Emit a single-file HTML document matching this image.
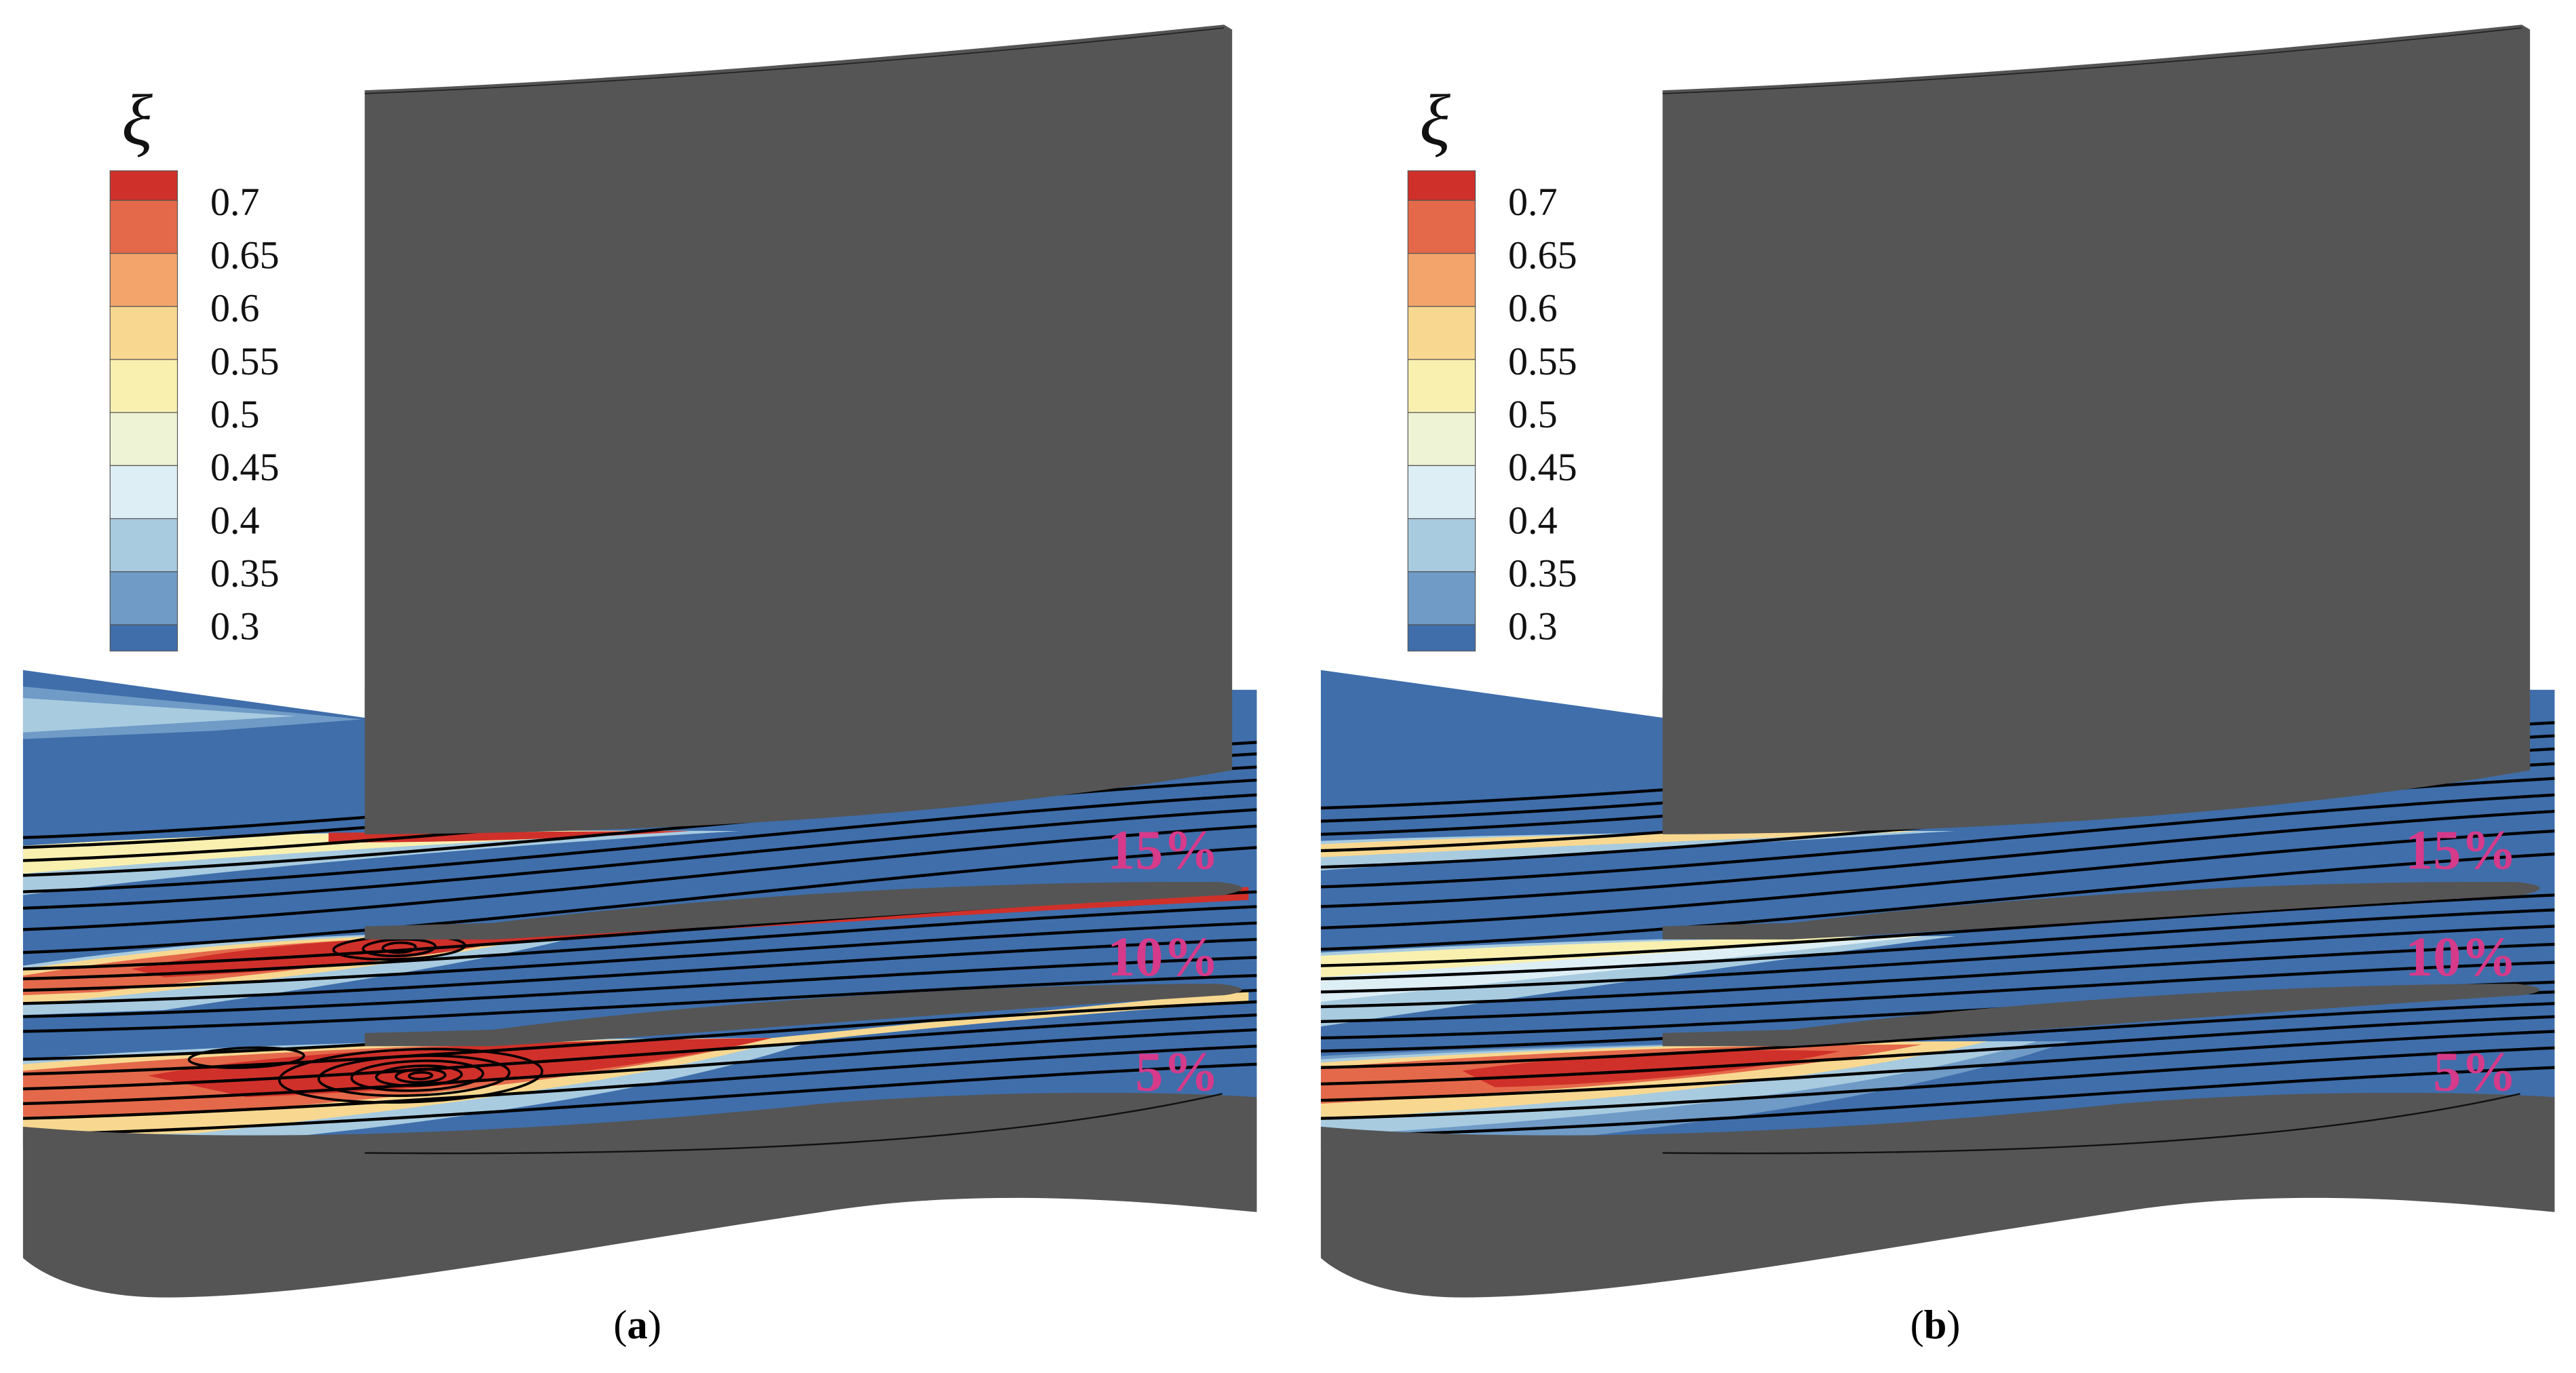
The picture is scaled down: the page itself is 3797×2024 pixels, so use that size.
<!DOCTYPE html>
<html><head><meta charset="utf-8">
<style>
html,body{margin:0;padding:0;background:#fff;}
svg{display:block;}
</style></head>
<body>
<svg id="fig" width="3797" height="2024" viewBox="0 0 1568 836" preserveAspectRatio="none" xmlns="http://www.w3.org/2000/svg">
<defs>
 <clipPath id="flowclip"><path d="M14,408 L222,437 L222,420 L765,420 L765,700 L14,700 Z"/></clipPath>
</defs>
<g id="panelA"></g>
<g id="panelB" transform="translate(790,0)"></g>
<text x="388" y="815" font-family="Liberation Serif, serif" font-size="25" text-anchor="middle">(<tspan font-weight="bold">a</tspan>)</text>
<text x="1178" y="815" font-family="Liberation Serif, serif" font-size="25" text-anchor="middle">(<tspan font-weight="bold">b</tspan>)</text>
</svg>
<script>
const levelLabels=["0.7","0.65","0.6","0.55","0.5","0.45","0.4","0.35","0.3"];
const levelColors=["#d0302a","#e4694a","#f2a46b","#f8d890","#f9f0b0","#eff3d5","#ddeef5","#a8cbe0","#6f9bc6","#3f6eab"];
// streamline end heights (left x=14, right x=765) per panel
const aUpperL=[510,516,524,533,543,553,566,580];
const aUpperR=[452,459,467,475,484,493,503,516];
const aMidL=[590,596,603,611,619,628];
const aMidR=[543,552,562,572,583,594];
const aLowL=[645,654,663,672,681,691];
const aLowR=[603,610,618,627,637,648];
const bUpperL=[492,500,508,518,528,540,552,565,578];
const bUpperR=[440,448,456,465,474,484,494,506,520];
const bMidL=[588,596,604,613,622,632];
const bMidR=[545,554,564,575,586,598];
const bLowL=[640,650,660,670,681,692];
const bLowR=[604,611,619,628,638,650];
const NS="http://www.w3.org/2000/svg";
function mk(parent,tag,attrs){const e=document.createElementNS(NS,tag);for(const k in attrs)e.setAttribute(k,attrs[k]);parent.appendChild(e);return e;}
function streamline(g,yl,yr,name){
  const p=mk(g,"path",{d:`M14,${yl} C260,${yl-(yl-yr)*0.15} 520,${yr+(yl-yr)*0.25} 765,${yr}`,fill:"none",stroke:"#000","stroke-width":"1.8"});
  
  
}
function build(g,isA){
  const field=mk(g,"path",{d:"M14,408 L222,437 L222,420 L765,420 L765,700 L14,700 Z",fill:"#3f6eab"});
  
  
  const w=mk(g,"g",{"clip-path":"url(#flowclip)"});
  
  
  if(isA){
    mk(w,"path",{d:"M14,418 L220,438 L130,445 L14,450 Z",fill:"#6f9bc6"});
    mk(w,"path",{d:"M14,425 L180,436 L14,446 Z",fill:"#a8cbe0"});
    mk(w,"path",{d:"M14,515 C120,508 250,505 450,506 C300,515 150,528 14,545 Z",fill:"#a8cbe0"});
    mk(w,"path",{d:"M14,515 C120,508 250,505 420,506 C300,512 150,520 14,532 Z",fill:"#f9f0b0"});
    mk(w,"path",{d:"M200,507 L420,506 C330,512 250,513 200,513 Z",fill:"#d0302a"});
    mk(w,"path",{d:"M14,588 C100,575 200,566 360,568 C300,585 200,600 100,615 L14,618 Z",fill:"#a8cbe0"});
    mk(w,"path",{d:"M14,590 C100,577 200,568 340,568 C280,582 180,596 14,612 Z",fill:"#f8d890"});
    mk(w,"path",{d:"M14,594 C100,580 200,570 320,569 C260,582 170,592 60,604 L14,606 Z",fill:"#e4694a"});
    mk(w,"path",{d:"M80,590 C140,578 200,570 330,569 C270,582 200,590 100,595 Z",fill:"#d0302a"});
    mk(w,"path",{d:"M280,569 L760,540 L760,548 C600,556 450,565 280,575 Z",fill:"#d0302a"});
    mk(w,"path",{d:"M14,645 C150,635 300,632 500,632 C420,660 300,680 150,695 L14,695 Z",fill:"#a8cbe0"});
    mk(w,"path",{d:"M14,648 C150,637 300,633 480,632 C400,656 280,672 120,690 L14,692 Z",fill:"#f8d890"});
    mk(w,"path",{d:"M14,652 C150,640 300,634 470,632 C390,652 280,666 120,678 L14,680 Z",fill:"#e4694a"});
    mk(w,"path",{d:"M90,655 C170,640 300,634 470,632 C390,650 300,662 150,668 Z",fill:"#d0302a"});
    mk(w,"path",{d:"M470,632 L760,603 L760,610 C620,620 520,630 440,640 Z",fill:"#f8d890"});
  } else {
    mk(w,"path",{d:"M14,512 C120,508 250,506 400,506 C300,512 150,520 14,530 Z",fill:"#a8cbe0"});
    mk(w,"path",{d:"M14,514 C120,509 250,506 380,506 C300,510 150,515 14,522 Z",fill:"#f8d890"});
    mk(w,"path",{d:"M14,580 C150,573 250,570 400,570 C250,590 150,605 14,625 Z",fill:"#a8cbe0"});
    mk(w,"path",{d:"M14,582 C150,575 250,571 380,570 C250,585 150,595 14,610 Z",fill:"#ddeef5"});
    mk(w,"path",{d:"M14,582 C150,575 250,571 380,570 C250,578 150,585 14,595 Z",fill:"#f9f0b0"});
    mk(w,"path",{d:"M14,643 C150,636 300,634 470,634 C380,665 250,685 100,700 L14,700 Z",fill:"#6f9bc6"});
    mk(w,"path",{d:"M14,645 C150,637 300,634 450,634 C360,660 250,676 14,692 Z",fill:"#a8cbe0"});
    mk(w,"path",{d:"M14,647 C150,638 300,634 420,634 C330,655 220,668 14,682 Z",fill:"#f8d890"});
    mk(w,"path",{d:"M14,650 C150,640 260,636 380,636 C300,652 200,662 14,672 Z",fill:"#e4694a"});
    mk(w,"path",{d:"M100,652 C170,642 250,638 330,640 C280,652 200,660 120,662 Z",fill:"#d0302a"});
  }
  const sl=mk(g,"g",{"clip-path":"url(#flowclip)"});
  
  
  const U=isA?[aUpperL,aUpperR]:[bUpperL,bUpperR], M=isA?[aMidL,aMidR]:[bMidL,bMidR], L=isA?[aLowL,aLowR]:[bLowL,bLowR];
  U[0].forEach((v,i)=>streamline(sl,v,U[1][i],'streamline-15'));
  M[0].forEach((v,i)=>streamline(sl,v,M[1][i],'streamline-10'));
  L[0].forEach((v,i)=>streamline(sl,v,L[1][i],'streamline-5'));
  if(isA){
    const v=mk(g,"g",{fill:"none",stroke:"#000","stroke-width":"1.5"});
    
    
    [[250,655,80,16],[252,655,58,12],[254,655,40,9],[255,655,26,6],[256,655,15,4],[256,655,7,2],[243,577,40,7],[243,577,22,5],[243,577,10,3],[150,644,35,6]].forEach(e=>mk(v,"ellipse",{cx:e[0],cy:e[1],rx:e[2],ry:e[3],transform:`rotate(-2 ${e[0]} ${e[1]})`}));
  }
  const gray="#555555";
  const blade=mk(g,"path",{d:"M222,55 C400,48 600,30 745,15 L750,18 L750,469 C600,495 420,507 222,508 Z",fill:gray});
  
  
  mk(g,"path",{d:"M222,57 C400,50 600,33 745,17",fill:"none",stroke:"#222","stroke-width":"0.7"});
  const s10=mk(g,"path",{d:"M222,564 L300,562 C430,546 600,536 742,537 C760,539 760,542 745,545 C600,553 420,566 300,572 L222,572 Z",fill:gray});
  
  
  const s5=mk(g,"path",{d:"M222,629 L300,627 C430,610 600,599 742,599 C760,601 760,604 745,606 C600,615 420,630 300,637 L222,637 Z",fill:gray});
  
  
  const hub=mk(g,"path",{d:"M14,686 C150,698 350,688 500,672 C600,664 700,664 765,668 L765,738 C700,732 600,722 500,738 C350,760 200,790 100,790 C60,790 30,780 14,766 Z",fill:gray});
  
  
  mk(g,"path",{d:"M222,702 C450,704 620,694 744,666",fill:"none",stroke:"#111","stroke-width":"1"});
  [["15%",516],["10%",581],["5%",651]].forEach(t=>{
    const tx=mk(g,"text",{x:742,y:t[1]+13,"text-anchor":"end","font-family":"Liberation Serif, serif","font-weight":"bold","font-size":"34",fill:"#d63a8a"});
    tx.textContent=t[0];
    
    
  });
  const cb=mk(g,"g",{});
  
  
  const x0=67,wd=41,top=104,seg=32.3,first=18,last=16;
  let y=top;
  levelColors.forEach((c,i)=>{
    const h=i===0?first:(i===levelColors.length-1?last:seg);
    const r=mk(cb,"rect",{x:x0,y:y,width:wd,height:h,fill:c,stroke:"#555","stroke-width":"0.5"});
    
    
    y+=h;
  });
  levelLabels.forEach((l,i)=>{
    const t=mk(cb,"text",{x:128,y:top+first+seg*i+9,"font-family":"Liberation Serif, serif","font-size":"24",fill:"#111"});
    t.textContent=l;
    
    
  });
  const xi=mk(cb,"text",{x:74,y:88,"font-family":"Liberation Serif, serif","font-style":"italic","font-size":"44",fill:"#111"});
  xi.textContent="ξ";
  
  
}
build(document.getElementById("panelA"),true);
build(document.getElementById("panelB"),false);
</script>
</body></html>
